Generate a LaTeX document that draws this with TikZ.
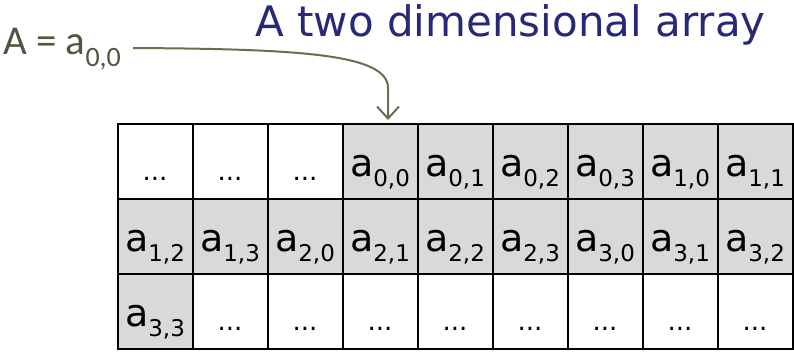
\documentclass[tikz,border=0pt]{standalone}
\usepackage{fontspec}
\setmainfont{DejaVu Sans}
\newfontfamily\lblfont{Carlito}
\usetikzlibrary{arrows.meta,calc}
\definecolor{titlecol}{RGB}{40,40,120}
\definecolor{lblcol}{RGB}{85,85,60}
\definecolor{arrcol}{RGB}{108,108,80}
\definecolor{cellgray}{RGB}{217,217,217}
\newcommand{\elt}[1]{a\raisebox{-10pt}{\fontsize{23}{23}\selectfont #1}}
\begin{document}
\begin{tikzpicture}[x=1pt,y=-1pt,
  cellbase/.style={draw=black, line width=2pt, minimum width=75pt, minimum height=75pt, inner sep=0pt, anchor=center},
  gcell/.style={cellbase, fill=cellgray, font=\fontsize{38}{38}\selectfont, text height=52pt, text depth=23pt},
  wcell/.style={cellbase, fill=white, font=\fontsize{26}{26}\selectfont, text height=56pt, text depth=19pt},
]
\useasboundingbox (0,0) rectangle (794,351);
% row 1
\node[wcell] (c11) at (155,161.5) {...};
\node[wcell] (c12) at (230,161.5) {...};
\node[wcell] (c13) at (305,161.5) {...};
\node[gcell] (c14) at (380,161.5) {\elt{0,0}};
\node[gcell] (c15) at (455,161.5) {\elt{0,1}};
\node[gcell] (c16) at (530,161.5) {\elt{0,2}};
\node[gcell] (c17) at (605,161.5) {\elt{0,3}};
\node[gcell] (c18) at (680,161.5) {\elt{1,0}};
\node[gcell] (c19) at (755,161.5) {\elt{1,1}};
% row 2
\node[gcell] (c21) at (155,236.5) {\elt{1,2}};
\node[gcell] (c22) at (230,236.5) {\elt{1,3}};
\node[gcell] (c23) at (305,236.5) {\elt{2,0}};
\node[gcell] (c24) at (380,236.5) {\elt{2,1}};
\node[gcell] (c25) at (455,236.5) {\elt{2,2}};
\node[gcell] (c26) at (530,236.5) {\elt{2,3}};
\node[gcell] (c27) at (605,236.5) {\elt{3,0}};
\node[gcell] (c28) at (680,236.5) {\elt{3,1}};
\node[gcell] (c29) at (755,236.5) {\elt{3,2}};
% row 3
\node[gcell] (c31) at (155,311.5) {\elt{3,3}};
\node[wcell] (c32) at (230,311.5) {...};
\node[wcell] (c33) at (305,311.5) {...};
\node[wcell] (c34) at (380,311.5) {...};
\node[wcell] (c35) at (455,311.5) {...};
\node[wcell] (c36) at (530,311.5) {...};
\node[wcell] (c37) at (605,311.5) {...};
\node[wcell] (c38) at (680,311.5) {...};
\node[wcell] (c39) at (755,311.5) {...};
% title and label
\node[anchor=base west, text=titlecol, font=\fontsize{42}{42}\selectfont, inner sep=0pt] (title) at (255,36) {A two dimensional array};
\node[anchor=base west, text=lblcol, font=\lblfont\fontsize{41}{41}\selectfont, inner sep=0pt] (lbl) at (3,54) {A = a\raisebox{-12pt}{\fontsize{28}{28}\selectfont 0,0}};
% arrow
\coordinate (arrstart) at (133,48);
\coordinate (arrend) at ($(c14.north)+(8,-3)$);
\draw[arrcol, line width=2pt, -{Straight Barb[length=12pt,width=22pt]}] (arrstart) .. controls (300,49) and (388,54) .. (388,88) -- (arrend);
\end{tikzpicture}
\end{document}
